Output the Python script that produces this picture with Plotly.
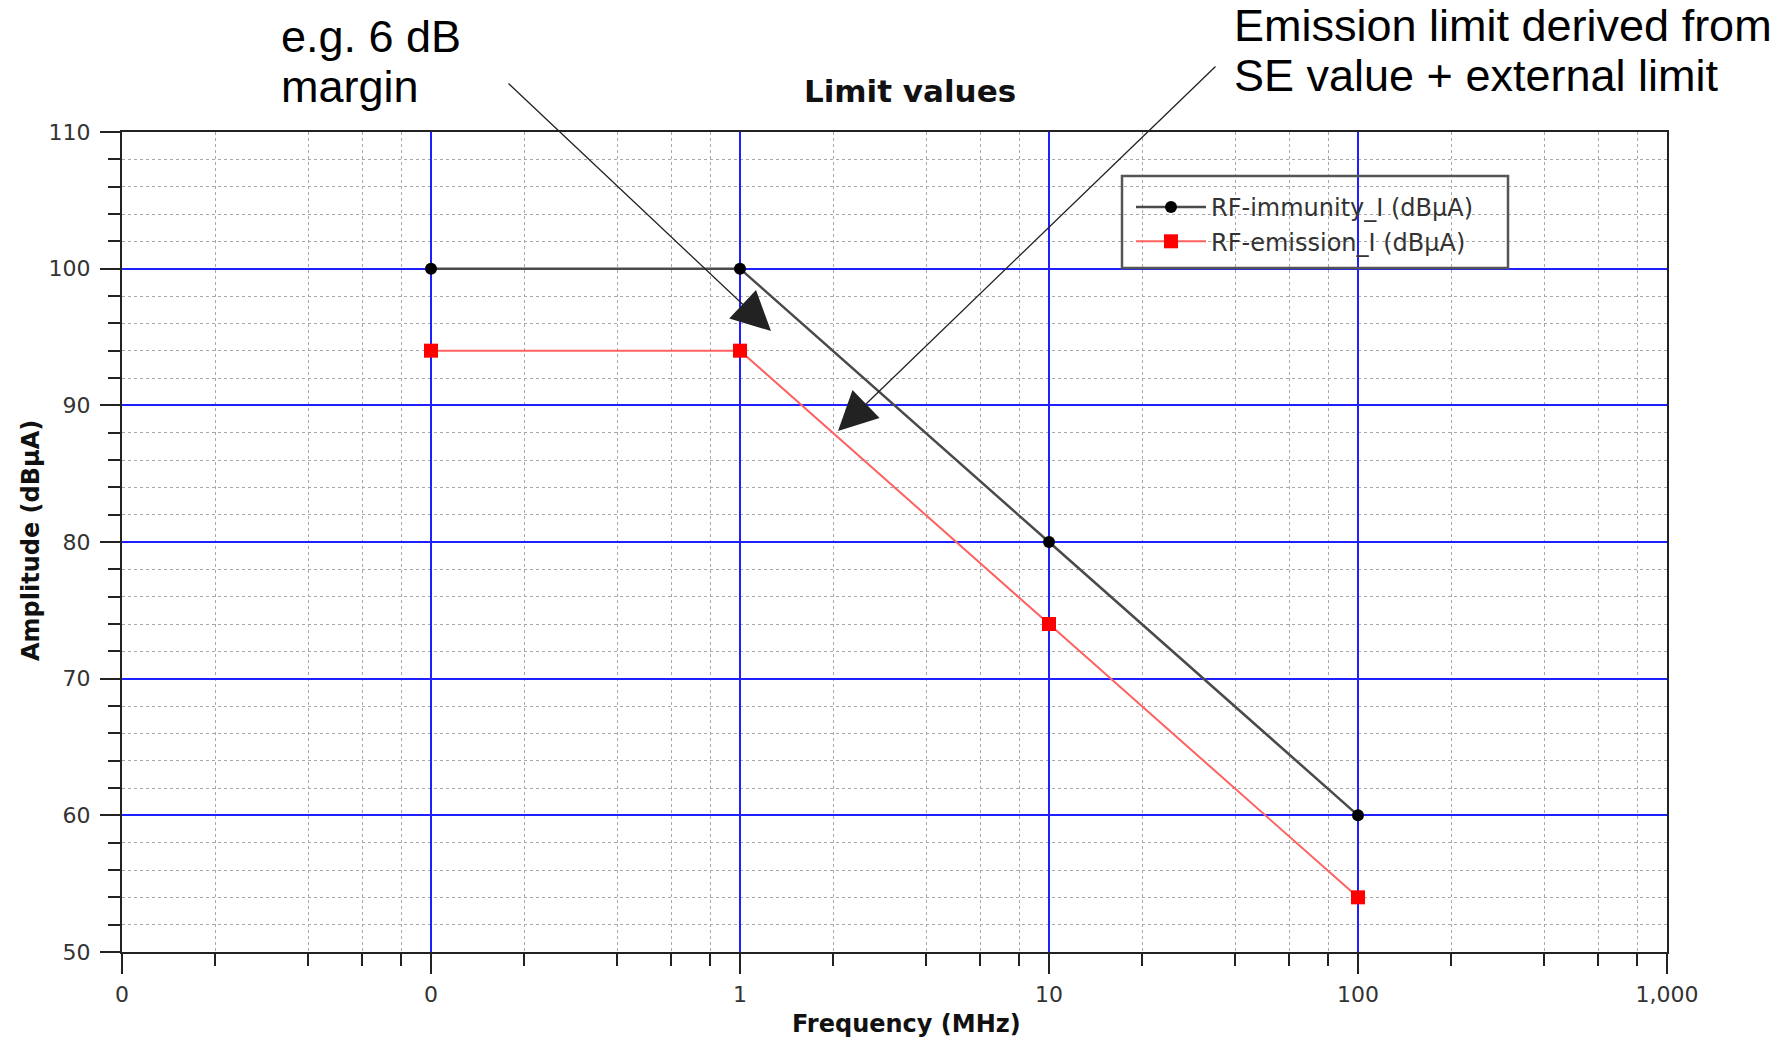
import plotly.graph_objects as go

# ---- data ----
freq_mhz = [0.1, 1, 10, 100]
rf_immunity = [100, 100, 80, 60]
rf_emission = [94, 94, 74, 54]

x_tickvals = [0.01, 0.1, 1, 10, 100, 1000]
x_ticktext = ["0", "0", "1", "10", "100", "1,000"]
y_tickvals = [50, 60, 70, 80, 90, 100, 110]

# ---- layout geometry (px) ----
W, H = 1783, 1042
L, R, T, B = 122, 116, 132, 90
PW, PH = W - L - R, H - T - B


def px_x(px):
    return (px - L) / PW


def px_y(py):
    return (H - B - py) / PH


x_minor = [m * 10 ** e for e in range(-2, 3) for m in (2, 4, 6, 8)]

fig = go.Figure()
fig.add_trace(go.Scatter(
    x=freq_mhz, y=rf_immunity, name="RF-immunity_I (dBµA)",
    mode="lines+markers",
    line=dict(color="#4a4a4a", width=2.5),
    marker=dict(symbol="circle", size=12, color="#000000"),
))
fig.add_trace(go.Scatter(
    x=freq_mhz, y=rf_emission, name="RF-emission_I (dBµA)",
    mode="lines+markers",
    line=dict(color="#ff6060", width=2),
    marker=dict(symbol="square", size=14, color="#ff0000"),
))

tickfont = dict(family="DejaVu Sans", size=22, color="#333333")

fig.update_xaxes(
    type="log", range=[-2, 3],
    tickmode="array", tickvals=x_tickvals, ticktext=x_ticktext,
    ticks="outside", ticklen=20, tickwidth=1.5, tickcolor="#222222",
    tickfont=tickfont, ticklabelstandoff=2,
    showline=True, linecolor="#222222", linewidth=2, mirror=True,
    showgrid=True, gridcolor="#2020ff", gridwidth=1.5,
    zeroline=False,
    minor=dict(tickmode="array", tickvals=x_minor, ticks="outside", ticklen=12,
               tickwidth=1.5, tickcolor="#222222",
               showgrid=True, gridcolor="#a8a8a8", gridwidth=1, griddash="dot"),
)
fig.update_yaxes(
    range=[50, 110],
    tickmode="array", tickvals=y_tickvals,
    ticks="outside", ticklen=20, tickwidth=1.5, tickcolor="#222222",
    tickfont=tickfont, ticklabelstandoff=5,
    showline=True, linecolor="#222222", linewidth=2, mirror=True,
    showgrid=True, gridcolor="#2020ff", gridwidth=1.5,
    zeroline=False,
    minor=dict(dtick=2, ticks="outside", ticklen=12, tickwidth=1.5,
               tickcolor="#222222",
               showgrid=True, gridcolor="#a8a8a8", gridwidth=1, griddash="dot"),
)

annots = []
big = dict(family="Liberation Sans", size=45, color="#000000")
for text, x, y in [("e.g. 6 dB", 279, 37), ("margin", 279, 87),
                   ("Emission limit derived from", 1232, 25),
                   ("SE value + external limit", 1232, 76)]:
    annots.append(dict(text=text, x=px_x(x), y=px_y(y), xref="paper", yref="paper",
                       xanchor="left", yanchor="middle", showarrow=False, font=big))

# arrows (tip, tail in px)
for tip, tail in [((771, 331), (507, 82)), ((838, 431), (1217, 65))]:
    annots.append(dict(text="", x=px_x(tip[0]), y=px_y(tip[1]), xref="paper", yref="paper",
                       ax=tail[0] - tip[0], ay=tail[1] - tip[1],
                       showarrow=True, arrowhead=2, arrowsize=6, arrowwidth=1.3,
                       arrowcolor="#222222", standoff=0))

# axis titles
atf = dict(family="DejaVu Sans", size=24, color="#111111")
annots.append(dict(text="<b>Frequency (MHz)</b>", x=px_x(906), y=px_y(1024),
                   xref="paper", yref="paper", xanchor="center", yanchor="middle",
                   showarrow=False, font=atf))
annots.append(dict(text="<b>Amplitude (dBµA)</b>", x=px_x(31), y=px_y(541),
                   xref="paper", yref="paper", xanchor="center", yanchor="middle",
                   textangle=-90, showarrow=False, font=atf))

fig.update_layout(
    width=W, height=H,
    margin=dict(l=L, r=R, t=T, b=B, pad=0),
    paper_bgcolor="white", plot_bgcolor="white",
    title=dict(text="<b>Limit values</b>", x=910 / W, y=1 - 91 / H,
               xanchor="center", yanchor="middle",
               font=dict(family="DejaVu Sans", size=31, color="#111111")),
    showlegend=True,
    legend=dict(x=px_x(1131), y=px_y(185), xanchor="left", yanchor="top",
                bgcolor="rgba(0,0,0,0)", borderwidth=0, itemwidth=70,
                font=dict(family="DejaVu Sans", size=24, color="#333333")),
    shapes=[dict(type="rect", xref="paper", yref="paper",
                 x0=px_x(1122), x1=px_x(1508), y0=px_y(176), y1=px_y(268),
                 line=dict(color="#555555", width=2.5), fillcolor="rgba(0,0,0,0)")],
    annotations=annots,
)

fig.write_html("out.html")
